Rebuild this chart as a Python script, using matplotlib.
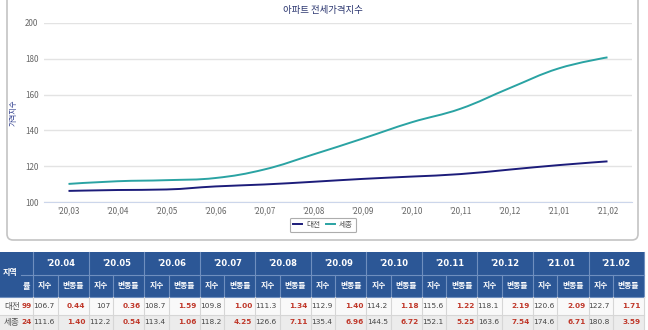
import matplotlib.pyplot as plt
from matplotlib.path import Path
from matplotlib.patches import PathPatch, Rectangle, FancyBboxPatch
from matplotlib.lines import Line2D

plt.rcParams['font.family'] = ['Noto Sans CJK KR', 'DejaVu Sans']

# chart data
months = ["'20,03", "'20,04", "'20,05", "'20,06", "'20,07", "'20,08",
          "'20,09", "'20,10", "'20,11", "'20,12", "'21,01", "'21,02"]
daejeon = [106.2, 106.7, 107.0, 108.7, 109.8, 111.3, 112.9, 114.2, 115.6, 118.1, 120.6, 122.7]
sejong = [110.1, 111.6, 112.2, 113.4, 118.2, 126.6, 135.4, 144.5, 152.1, 163.6, 174.6, 180.8]

# table data
table_months = ["'20.04", "'20.05", "'20.06", "'20.07", "'20.08", "'20.09",
                "'20.10", "'20.11", "'20.12", "'21.01", "'21.02"]
daejeon_idx = ["106.7", "107", "108.7", "109.8", "111.3", "112.9", "114.2", "115.6", "118.1", "120.6", "122.7"]
daejeon_chg = ["0.44", "0.36", "1.59", "1.00", "1.34", "1.40", "1.18", "1.22", "2.19", "2.09", "1.71"]
sejong_idx = ["111.6", "112.2", "113.4", "118.2", "126.6", "135.4", "144.5", "152.1", "163.6", "174.6", "180.8"]
sejong_chg = ["1.40", "0.54", "1.06", "4.25", "7.11", "6.96", "6.72", "5.25", "7.54", "6.71", "3.59"]

W, H = 648, 330
NAVY = '#1c1c7a'
TEAL = '#2aa3a3'
NUM = 'DejaVu Sans'


def spline_path(xs, ys, smoothing=1.5):
    # highcharts-like spline, control points derived from the data points
    denom = smoothing + 1
    n = len(xs)
    left, right = [], []
    for i in range(n):
        x, y = xs[i], ys[i]
        if i == 0 or i == n - 1:
            left.append((x, y))
            right.append((x, y))
            continue
        px, py = xs[i - 1], ys[i - 1]
        nx, ny = xs[i + 1], ys[i + 1]
        lcx = (smoothing * x + px) / denom
        lcy = (smoothing * y + py) / denom
        rcx = (smoothing * x + nx) / denom
        rcy = (smoothing * y + ny) / denom
        corr = (rcy - lcy) * (rcx - x) / (rcx - lcx) + y - rcy
        lcy += corr
        rcy += corr
        if lcy > py and lcy > y:
            lcy = max(py, y)
            rcy = 2 * y - lcy
        elif lcy < py and lcy < y:
            lcy = min(py, y)
            rcy = 2 * y - lcy
        if rcy > ny and rcy > y:
            rcy = max(ny, y)
            lcy = 2 * y - rcy
        elif rcy < ny and rcy < y:
            rcy = min(ny, y)
            lcy = 2 * y - rcy
        left.append((lcx, lcy))
        right.append((rcx, rcy))
    verts = [(xs[0], ys[0])]
    codes = [Path.MOVETO]
    for i in range(1, n):
        verts += [right[i - 1], left[i], (xs[i], ys[i])]
        codes += [Path.CURVE4] * 3
    return Path(verts, codes)


fig = plt.figure(figsize=(W / 100, H / 100), dpi=100)

# overlay axes in pixel coordinates
bg = fig.add_axes([0, 0, 1, 1])
bg.set_xlim(0, W)
bg.set_ylim(H, 0)
bg.axis('off')

# chart frame
bg.add_patch(FancyBboxPatch((7, -20), 631, 260, boxstyle='round,pad=0,rounding_size=6',
                            fc='white', ec='#c4c4c4', lw=1.2, zorder=0))

# line chart
ax = fig.add_axes([44 / W, 128 / H, 588 / W, 179 / H])
ax.set_facecolor('none')
xs = list(range(len(months)))
for vals, col in [(daejeon, NAVY), (sejong, TEAL)]:
    ax.add_patch(PathPatch(spline_path(xs, vals), fc='none', ec=col, lw=1.4, zorder=3))
ax.set_xlim(-0.5, 11.5)
ax.set_ylim(100, 200)
ax.set_yticks([100, 120, 140, 160, 180, 200])
ax.set_xticks(xs)
ax.set_xticklabels(months)
ax.grid(axis='y', color='#e3e3e3', lw=1)
for s in ['top', 'right', 'left']:
    ax.spines[s].set_visible(False)
ax.spines['bottom'].set_color('#ccd6eb')
ax.tick_params(axis='both', length=0, labelsize=5.8, labelcolor='#666666')
ax.tick_params(axis='x', pad=3)
ax.tick_params(axis='y', pad=4)

bg.text(323, 11, '아파트 전세가격지수', ha='center', va='center', fontsize=6.8, color='#2b3670')
bg.text(14, 113, '가격지수', ha='center', va='center', rotation=90, fontsize=5.2, color='#2b3a8c')

handles = [Line2D([], [], color=NAVY, lw=1.4), Line2D([], [], color=TEAL, lw=1.4)]
leg = fig.legend(handles, ['대전', '세종'], loc='center', bbox_to_anchor=(323 / W, 1 - 225 / H),
                 ncol=2, fontsize=5.5, frameon=True, handlelength=1.2, handletextpad=0.5,
                 columnspacing=0.8, borderpad=0.45, fancybox=True)
leg.get_frame().set_edgecolor('#999999')
leg.get_frame().set_linewidth(0.8)
for t in leg.get_texts():
    t.set_color('#555555')

# table
HEAD = '#2c5796'
HLINE = '#6f8fbf'
r0, r1, r2, r3, r4 = 252, 274.5, 297, 315, 333
x0 = 33
gw = 55.55
sub = 24.5
x_end = x0 + gw * len(table_months)

bg.add_patch(Rectangle((0, r0), x_end, r2 - r0, fc=HEAD, ec='none', zorder=1))
bg.add_patch(Rectangle((0, r2), x_end, r3 - r2, fc='#f9f9f9', ec='none', zorder=1))
bg.add_patch(Rectangle((0, r3), x_end, r4 - r3, fc='#ececec', ec='none', zorder=1))

# header lines
bg.plot([21, x_end], [r1, r1], color=HLINE, lw=0.8, zorder=2)
bg.plot([0, x_end], [r2, r2], color=HLINE, lw=0.8, zorder=2)
bg.plot([0, x_end], [r3, r3], color='#d6d6d6', lw=0.8, zorder=2)
for i in range(len(table_months) + 1):
    gx = x0 + gw * i
    bg.plot([gx, gx], [r0, r2], color=HLINE, lw=0.8, zorder=2)
    bg.plot([gx, gx], [r2, r4], color='#d6d6d6', lw=0.8, zorder=2)
    if i < len(table_months):
        sx = gx + sub
        bg.plot([sx, sx], [r1, r2], color=HLINE, lw=0.8, zorder=2)
        bg.plot([sx, sx], [r2, r4], color='#d6d6d6', lw=0.8, zorder=2)

ry1 = (r2 + r3) / 2
ry2 = (r3 + r4) / 2 - 1.5
bg.text(10, 272, '지역', ha='center', va='center', fontsize=5.8, color='white', fontweight='bold', zorder=3)
bg.text(26, 286, '률', ha='center', va='center', fontsize=5.8, color='white', fontweight='bold', zorder=3)
bg.text(12, ry1, '대전', ha='center', va='center', fontsize=6.2, color='#555555', zorder=3)
bg.text(12, ry2, '세종', ha='center', va='center', fontsize=6.2, color='#555555', zorder=3)
bg.text(31.5, ry1, '99', ha='right', va='center', fontsize=5.3, color='#c0392b',
        fontweight='bold', family=NUM, zorder=3)
bg.text(31.5, ry2, '24', ha='right', va='center', fontsize=5.3, color='#c0392b',
        fontweight='bold', family=NUM, zorder=3)

for i, m in enumerate(table_months):
    gx = x0 + gw * i
    bg.text(gx + gw / 2, (r0 + r1) / 2, m, ha='center', va='center', fontsize=6,
            color='white', fontweight='bold', family=NUM, zorder=3)
    bg.text(gx + sub / 2, (r1 + r2) / 2, '지수', ha='center', va='center', fontsize=5.6,
            color='white', fontweight='bold', zorder=3)
    bg.text(gx + sub + (gw - sub) / 2, (r1 + r2) / 2, '변동률', ha='center', va='center', fontsize=5.6,
            color='white', fontweight='bold', zorder=3)
    for ry, idx, chg in [(ry1, daejeon_idx[i], daejeon_chg[i]),
                         (ry2, sejong_idx[i], sejong_chg[i])]:
        bg.text(gx + sub - 3, ry, idx, ha='right', va='center', fontsize=5.3, color='#444444',
                family=NUM, zorder=3)
        bg.text(gx + gw - 3, ry, chg, ha='right', va='center', fontsize=5.3, color='#c0392b',
                fontweight='bold', family=NUM, zorder=3)

fig.savefig('out.png', dpi=100)
